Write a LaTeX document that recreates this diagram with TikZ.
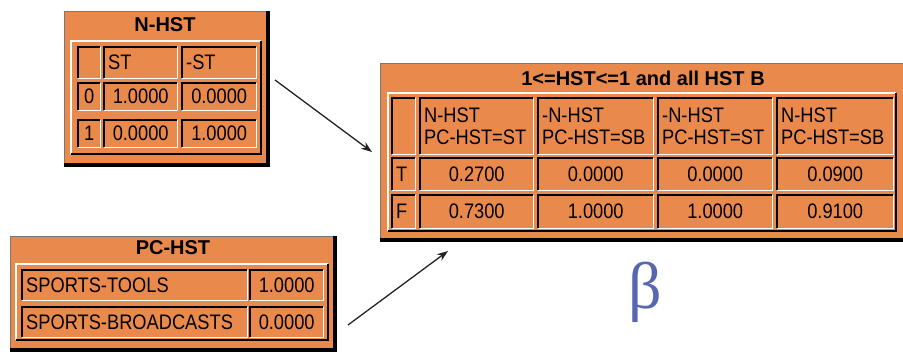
\documentclass[tikz,border=0pt]{standalone}
\usepackage{fontspec}
\setmainfont{Liberation Sans}
\newfontfamily\cellfont[FakeStretch=0.87]{Liberation Sans}
\newfontfamily\betafont{Liberation Serif}
\usetikzlibrary{arrows.meta}
\definecolor{bnorange}{RGB}{234,137,76}
\definecolor{betablue}{RGB}{88,104,176}
\definecolor{framegray}{RGB}{120,120,120}
\definecolor{arrowgray}{RGB}{35,35,35}

\tikzset{
  cellbox/.style={inner xsep=4pt, inner ysep=0pt, font=\cellfont\fontsize{21}{22}\selectfont, text=black},
  darkedge/.style={draw=black, line width=1.4pt},
  lightedge/.style={draw=white, line width=1.4pt},
  framebox/.style={fill=bnorange, draw=none, inner sep=0pt},
  shadowedge/.style={draw=black, line width=3.5pt},
  grayedge/.style={draw=framegray, line width=0.9pt},
  titletext/.style={font=\fontsize{20}{24}\selectfont\bfseries, text=black, inner sep=0pt},
  arrowline/.style={draw=arrowgray, line width=1.3pt, -{Stealth[length=11pt,width=8pt]}},
}

\newcommand\mkcell[7]{%
  \pgfmathsetmacro\cellw{#4-#2}%
  \pgfmathsetmacro\cellh{#5-#3}%
  \pgfmathsetmacro\cellt{#4-#2-8}%
  \node[cellbox, anchor=north west, minimum width=\cellw pt, minimum height=\cellh pt, text width=\cellt pt, align=#6] (#1) at (#2,#3) {#7};
  \draw[darkedge] (#1.south west) |- (#1.north east);
  \draw[lightedge] (#1.south west) -| (#1.north east);
}
\newcommand\mkgroup[4]{%
  \draw[lightedge] (#1,#4) -- (#1,#2) -- (#3,#2);
  \draw[darkedge] (#3,#2) -- (#3,#4) -- (#1,#4);
}
\newcommand\mkframe[5]{%
  \pgfmathsetmacro\framew{#4-#2}%
  \pgfmathsetmacro\frameh{#5-#3}%
  \node[framebox, anchor=north west, minimum width=\framew pt, minimum height=\frameh pt] (#1) at (#2,#3) {};
  \draw[grayedge] (#1.south west) -- (#1.north west) -- (#1.north east);
  \draw[shadowedge] ([shift={(0pt,-1.75pt)}]#1.south west) -- ([shift={(1.75pt,-1.75pt)}]#1.south east) -- ([shift={(1.75pt,0pt)}]#1.north east);
}

\begin{document}
\begin{tikzpicture}[x=1pt,y=-1pt]
\useasboundingbox (0,0) rectangle (903,352);

% ---------- N-HST ----------
\mkframe{nhst}{64}{11}{266}{163}
\node[titletext] (nhsttitle) at (165,25) {N-HST};
\mkgroup{71}{41}{261}{154}
\mkcell{na0}{78}{47}{100}{78}{center}{}
\mkcell{na1}{104}{47}{177}{78}{left}{ST}
\mkcell{na2}{182}{47}{256}{78}{left}{-ST}
\mkcell{nb0}{78}{83}{100}{110}{center}{0}
\mkcell{nb1}{104}{83}{177}{110}{center}{1.0000}
\mkcell{nb2}{182}{83}{256}{110}{center}{0.0000}
\mkcell{nc0}{78}{120}{100}{147}{center}{1}
\mkcell{nc1}{104}{120}{177}{147}{center}{0.0000}
\mkcell{nc2}{182}{120}{256}{147}{center}{1.0000}

% ---------- big table ----------
\mkframe{big}{380}{63}{910}{238}
\node[titletext] (bigtitle) at (643,78) {1<=HST<=1 and all HST B};
\mkgroup{388}{93}{896}{231}
\mkcell{ba0}{392}{98}{415}{154}{left}{}
\mkcell{ba1}{420}{98}{533}{154}{left}{N-HST\\PC-HST=ST}
\mkcell{ba2}{538}{98}{653}{154}{left}{-N-HST\\PC-HST=SB}
\mkcell{ba3}{658}{98}{772}{154}{left}{-N-HST\\PC-HST=ST}
\mkcell{ba4}{777}{98}{893}{154}{left}{N-HST\\PC-HST=SB}
\mkcell{bb0}{392}{158}{415}{190}{left}{T}
\mkcell{bb1}{420}{158}{533}{190}{center}{0.2700}
\mkcell{bb2}{538}{158}{653}{190}{center}{0.0000}
\mkcell{bb3}{658}{158}{772}{190}{center}{0.0000}
\mkcell{bb4}{777}{158}{893}{190}{center}{0.0900}
\mkcell{bc0}{392}{195}{415}{228}{left}{F}
\mkcell{bc1}{420}{195}{533}{228}{center}{0.7300}
\mkcell{bc2}{538}{195}{653}{228}{center}{1.0000}
\mkcell{bc3}{658}{195}{772}{228}{center}{1.0000}
\mkcell{bc4}{777}{195}{893}{228}{center}{0.9100}

% ---------- PC-HST ----------
\mkframe{pchst}{10}{236}{333}{348}
\node[titletext] (pctitle) at (173,248) {PC-HST};
\mkgroup{16}{264}{328}{340}
\mkcell{pa0}{22}{270}{247}{300}{left}{SPORTS-TOOLS}
\mkcell{pa1}{250}{270}{323}{300}{center}{1.0000}
\mkcell{pb0}{22}{307}{247}{337}{left}{SPORTS-BROADCASTS}
\mkcell{pb1}{250}{307}{323}{337}{center}{0.0000}

% ---------- beta ----------
\node[text=betablue, font=\betafont\fontsize{66}{70}\selectfont, inner sep=0pt] (beta) at (645,292) {β};

% ---------- arrows ----------
\coordinate (a1s) at (275,80);
\coordinate (a1e) at (372,152);
\coordinate (a2s) at (348,325);
\coordinate (a2e) at (448,251);
\draw[arrowline] (a1s) -- (a1e);
\draw[arrowline] (a2s) -- (a2e);
\end{tikzpicture}
\end{document}
